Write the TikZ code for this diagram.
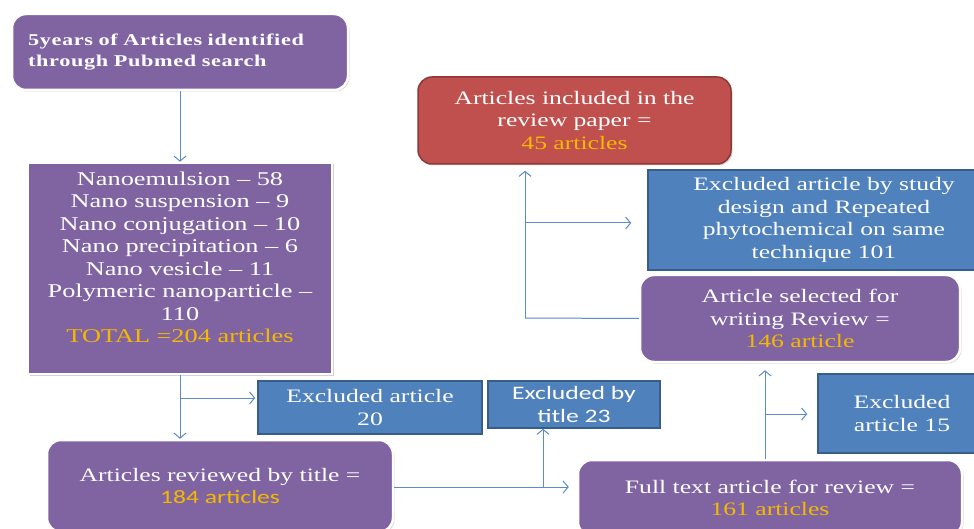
\documentclass[tikz,border=0pt]{standalone}
\usepackage{fontspec}
\setmainfont{Liberation Serif}[FakeStretch=1.35]
\newfontfamily\headfont{Liberation Serif}[FakeStretch=1.35, LetterSpace=4]
\newfontfamily\calibri{Carlito}[FakeStretch=1.35]
\usepackage{tikz}
\usetikzlibrary{arrows.meta}
\usetikzlibrary{shadows}
\definecolor{stagepurple}{HTML}{8064A2}
\definecolor{dropblue}{HTML}{4F81BD}
\definecolor{dropedge}{HTML}{385D8A}
\definecolor{finalred}{HTML}{C0504D}
\definecolor{finaledge}{HTML}{8C3836}
\definecolor{countgold}{HTML}{F5B800}
\definecolor{lineblue}{HTML}{5B8BC9}
\tikzset{
    flowarrow/.style={-{Straight Barb[length=5pt,width=12pt]}, line width=1pt, draw=lineblue},
    flowline/.style={-, line width=1pt, draw=lineblue},
    stagebox/.style={fill=stagepurple, draw=white, line width=2.5pt, text=white, align=center, inner sep=0pt,
        drop shadow={opacity=0.35, shadow xshift=1.5pt, shadow yshift=-1.5pt},
        font=\fontsize{19}{22.5}\selectfont},
    dropbox/.style={fill=dropblue, draw=dropedge, line width=1.5pt, text=white, align=center, inner sep=0pt,
        font=\fontsize{19}{22.5}\selectfont}
}
\newcommand{\isgold}[1]{{\color{countgold}#1}}

\begin{document}
\begin{tikzpicture}[x=1pt,y=-1pt]
    \useasboundingbox (0,0) rectangle (974,529);

    \node[stagebox, rounded corners=14pt, minimum height=76pt, text width=304pt, inner xsep=16pt, align=left,
        font=\fontsize{16.5}{21}\headfont\bfseries] (search) at (180,52)
        {5years of Articles identified\\ through Pubmed search};
    \node[stagebox, minimum width=304pt, minimum height=211pt, font=\fontsize{19.5}{22.5}\selectfont] (groups) at (180,268.5)
        {Nanoemulsion -- 58\\ Nano suspension -- 9\\ Nano conjugation -- 10\\ Nano precipitation -- 6\\
         Nano vesicle -- 11\\ Polymeric nanoparticle --\\ 110\\ \isgold{TOTAL =204 articles}\\ \mbox{}};
    \node[stagebox, rounded corners=14pt, minimum width=346pt, minimum height=92pt] (reviewed) at (220,486)
        {Articles reviewed by title =\\ \isgold{\calibri 184 articles}};
    \node[stagebox, rounded corners=14pt, minimum width=384pt, minimum height=76pt] (fulltext) at (770,498)
        {Full text article for review =\\ \isgold{161 articles}};
    \node[stagebox, rounded corners=14pt, minimum width=320pt, minimum height=87pt] (selected) at (800,318.5)
        {Article selected for\\ writing Review =\\ \isgold{146 article}};
    \node[stagebox, rounded corners=14pt, fill=finalred, draw=finaledge, line width=1.5pt,
        minimum width=313pt, minimum height=87pt] (included) at (574.5,120.5)
        {Articles included in the\\ review paper =\\ \isgold{45 articles}};

    \node[dropbox, minimum width=224pt, minimum height=53pt] (excltwenty) at (370,407.5) {Excluded article\\ 20};
    \node[dropbox, minimum width=172pt, minimum height=47pt, font=\fontsize{19}{22.5}\calibri] (excltitle) at (574,404.5)
        {Excluded by\\ title 23};
    \node[dropbox, minimum width=168pt, minimum height=79pt] (exclfifteen) at (902,413.5) {Excluded\\ article 15};
    \node[dropbox, minimum width=352pt, minimum height=100pt] (design) at (824,220)
        {Excluded article by study\\ design and Repeated\\ phytochemical on same\\ technique 101};

    \coordinate (split1) at (180,398);
    \coordinate (split2) at (543,487);
    \coordinate (split3) at (765,414);
    \coordinate (split4) at (525,223);
    \coordinate (corner) at (525,318);

    \path (search) edge[flowarrow] (groups);
    \path (groups.south) edge[flowline] (split1);
    \path (split1) edge[flowarrow] (split1 |- reviewed.north);
    \path (split1) edge[flowarrow, shorten >=2pt] (split1 -| excltwenty.west);

    \path (reviewed.east |- split2) edge[flowline] (split2);
    \path (split2) edge[flowarrow, shorten >=8pt] (split2 -| fulltext.west);
    \path (split2) edge[flowarrow] (split2 |- excltitle.south);

    \path (split3 |- fulltext.north) edge[flowline] (split3);
    \path (split3) edge[flowarrow, shorten >=7pt] (split3 |- selected.south);
    \path (split3) edge[flowarrow, shorten >=10pt] (split3 -| exclfifteen.west);

    \path (selected.west) edge[flowline] (corner);
    \path (corner) edge[flowline] (split4);
    \path (split4) edge[flowarrow, shorten >=6pt] (split4 |- included.south);
    \path (split4) edge[flowarrow, shorten >=16pt] (split4 -| design.west);
\end{tikzpicture}
\end{document}
